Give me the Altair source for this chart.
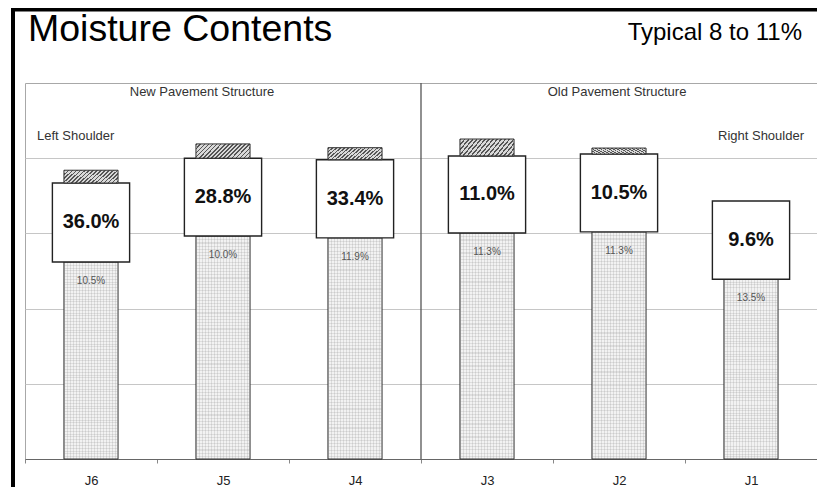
import altair as alt
import pandas as pd

# ---- data ----
sites = ["J6", "J5", "J4", "J3", "J2", "J1"]
base_top = [2.62, 2.965, 2.94, 3.005, 3.02, 2.39]     # top of stippled column
box_top = [3.67, 4.00, 3.98, 4.03, 4.055, 3.43]       # top of white box
cap_top = [3.84, 4.19, 4.14, 4.255, 4.135, None]      # top of hatched cap
box_labels = ["36.0%", "28.8%", "33.4%", "11.0%", "10.5%", "9.6%"]
base_labels = ["10.5%", "10.0%", "11.9%", "11.3%", "11.3%", "13.5%"]

title_text = "Moisture Contents"
subtitle_text = "Typical 8 to 11%"
section_labels = ["New Pavement Structure", "Old Pavement Structure"]
shoulder_labels = ["Left Shoulder", "Right Shoulder"]

df = pd.DataFrame({
    "site": sites,
    "base_top": base_top,
    "box_top": box_top,
    "cap_top": cap_top,
    "box_label": box_labels,
    "base_label": base_labels,
})

W, H = 792, 376
FONT = "Liberation Sans"


def stripes(n, frac, bg, line):
    stops = []
    for k in range(n):
        a = k / n
        b = (k + frac) / n
        c = (k + 1) / n
        stops += [
            alt.GradientStop(offset=a, color=line),
            alt.GradientStop(offset=b, color=line),
            alt.GradientStop(offset=b, color=bg),
            alt.GradientStop(offset=c, color=bg),
        ]
    return stops


stipple_v = alt.LinearGradient(gradient="linear", x1=0, y1=0, x2=1, y2=0,
                               stops=stripes(18, 0.35, "#f2f2f2", "#dcdcdc"))
stipple_h = alt.LinearGradient(gradient="linear", x1=0, y1=0, x2=0, y2=1,
                               stops=stripes(70, 0.35, "rgba(255,255,255,0)",
                                             "rgba(130,130,130,0.18)"))
hatch = alt.LinearGradient(gradient="linear", x1=0, y1=0, x2=1.2, y2=0.31,
                           stops=stripes(17, 0.4, "#d9d9d9", "#555555"))

x_enc = alt.X("site:N", sort=sites,
              scale=alt.Scale(paddingInner=0, paddingOuter=0),
              axis=alt.Axis(title=None, labelAngle=0, tickBand="extent",
                            tickSize=4, tickColor="#888888", domainColor="#666666",
                            labelFont=FONT, labelFontSize=13, labelColor="#222222",
                            labelPadding=11, grid=False))
y_scale = alt.Scale(domain=[0, 5], nice=False, zero=True)
y_axis = alt.Axis(title=None, labels=False, ticks=False, domain=False, grid=True,
                  values=[1, 2, 3, 4], gridColor="#c6c6c6", gridWidth=1)


def yq(field):
    return alt.Y(field, type="quantitative", scale=y_scale, axis=y_axis)


base = alt.Chart(df)

stipple = base.mark_bar(width=alt.RelativeBandSize(0.41), fill=stipple_v,
                        stroke="#333333", strokeWidth=1).encode(
    x=x_enc, y=yq("base_top"), y2=alt.datum(0))
stipple2 = base.mark_bar(width=alt.RelativeBandSize(0.41), fill=stipple_h,
                         strokeWidth=0).encode(
    x=x_enc, y=yq("base_top"), y2=alt.datum(0))
box = base.mark_bar(width=alt.RelativeBandSize(0.585), fill="white",
                    stroke="#222222", strokeWidth=1.4).encode(
    x=x_enc, y=yq("base_top"), y2="box_top")
cap = base.transform_filter("isValid(datum.cap_top)").mark_bar(
    width=alt.RelativeBandSize(0.41), fill=hatch, stroke="#333333",
    strokeWidth=1).encode(x=x_enc, y=yq("box_top"), y2="cap_top")

box_text = base.transform_calculate(
    mid="(datum.base_top + datum.box_top) / 2").mark_text(
    font=FONT, fontSize=20, fontWeight="bold", color="#111111",
    baseline="middle").encode(x=x_enc, y=yq("mid:Q"), text="box_label")
base_text = base.mark_text(font=FONT, fontSize=10, color="#555555",
                           baseline="middle", dy=19).encode(
    x=x_enc, y=yq("base_top"), text="base_label")

one = alt.Chart(pd.DataFrame({"k": [0]}))

divider = one.mark_rule(color="#555555", strokeWidth=1.3).encode(
    x=alt.value(W / 2), y=alt.value(0), y2=alt.value(H))


def label(txt, x, y, size, align="left", color="#333333", baseline="middle"):
    return one.mark_text(text=txt, font=FONT, fontSize=size, align=align,
                         baseline=baseline, color=color).encode(
        x=alt.value(x), y=alt.value(y))


texts = [
    label(title_text, 3, -42, 37.5, color="#000000", baseline="alphabetic"),
    label(subtitle_text, 777, -43, 24, align="right", color="#000000",
          baseline="alphabetic"),
    label(section_labels[0], 177, 9, 13, align="center"),
    label(section_labels[1], 592, 9, 13, align="center"),
    label(shoulder_labels[0], 12, 53, 13),
    label(shoulder_labels[1], 779, 53, 13, align="right"),
]

top_border = one.mark_rule(color="black", strokeWidth=3.5).encode(
    x=alt.value(-14), x2=alt.value(W + 20), y=alt.value(-73.2))
left_border = one.mark_rule(color="black", strokeWidth=4).encode(
    x=alt.value(-12), y=alt.value(-75), y2=alt.value(H + 30))

chart = alt.layer(
    stipple, stipple2, box, cap, box_text, base_text, divider,
    top_border, left_border, *texts
).properties(
    width=W, height=H,
    autosize="none",
    padding={"left": 17, "top": 75, "right": 0, "bottom": 28},
    background="white",
).configure_view(stroke="#a8a8a8", strokeWidth=1)

chart.save("out.html", embed_options={"renderer": "svg", "actions": False})
